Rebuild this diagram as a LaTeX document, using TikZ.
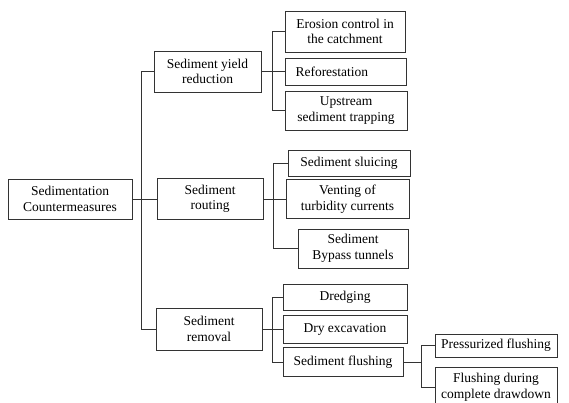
\documentclass[tikz,border=0pt]{standalone}
\usepackage{fontspec}
\setmainfont{Liberation Serif}
\begin{document}
\begin{tikzpicture}[x=1pt,y=-1pt,
  box/.style={draw=black!80, line width=0.8pt, inner sep=0pt, align=center,
    font=\fontsize{13.5}{15.5}\selectfont},
  link/.style={draw=black!80, line width=0.8pt}]
\useasboundingbox (0,0) rectangle (569,403);
% level 0
\node[box, minimum width=124, minimum height=40] (root) at (70,199) {Sedimentation\\Countermeasures};
% level 1
\node[box, minimum width=107, minimum height=41] (yield) at (207.5,71.5) {Sediment yield\\reduction};
\node[box, minimum width=106, minimum height=41] (routing) at (210,199) {Sediment\\routing};
\node[box, minimum width=106, minimum height=42] (removal) at (209,329) {Sediment\\removal};
% yield children
\node[box, minimum width=120, minimum height=41] (erosion) at (345,31.5) {Erosion control in\\the catchment};
\node[box, minimum width=121, minimum height=27, text width=100, align=left] (refor) at (345.5,71.5) {Reforestation};
\node[box, minimum width=122, minimum height=39] (upstream) at (346,110.5) {Upstream\\sediment trapping};
% routing children
\node[box, minimum width=122, minimum height=26] (sluicing) at (349,163) {Sediment sluicing};
\node[box, minimum width=123, minimum height=39] (venting) at (347.5,199) {Venting of\\turbidity currents};
\node[box, minimum width=110, minimum height=39] (bypass) at (353,248.5) {Sediment\\Bypass tunnels};
% removal children
\node[box, minimum width=124, minimum height=26] (dredging) at (345,297) {Dredging};
\node[box, minimum width=124, minimum height=28] (dry) at (345,329) {Dry excavation};
\node[box, minimum width=120, minimum height=29] (flushing) at (343,362) {Sediment flushing};
% flushing children
\node[box, minimum width=122, minimum height=23] (press) at (496,345.5) {Pressurized flushing};
\node[box, minimum width=122, minimum height=40] (fdd) at (496,387) {Flushing during\\complete drawdown};
% connectors
\draw[link] (root.east) -- (routing.west);
\draw[link] (yield.west) -- ++(-12,0) |- (removal.west);
\draw[link] (yield.east) -- (refor.west);
\draw[link] (erosion.west) -- ++(-12,0) |- (upstream.west);
\draw[link] (routing.east) -- (venting.west);
\draw[link] (sluicing.west) -- ++(-14,0) |- (bypass.west);
\draw[link] (removal.east) -- (dry.west);
\draw[link] (dredging.west) -- ++(-10,0) |- (flushing.west);
\draw[link] (flushing.east) -- ++(19,0) coordinate (fj);
\draw[link] (press.west) -- ++(-13,0) |- (fdd.west);
\end{tikzpicture}
\end{document}
